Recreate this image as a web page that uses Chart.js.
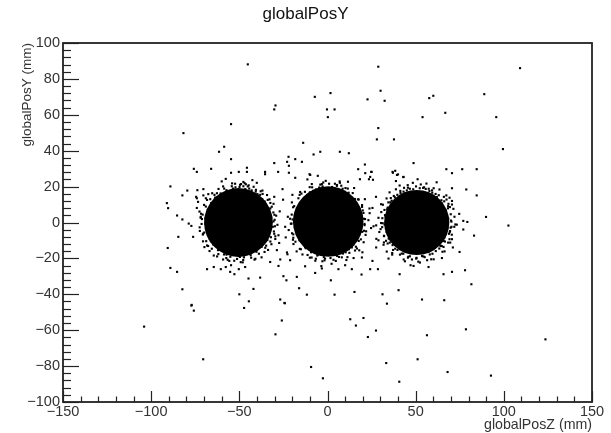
<!DOCTYPE html>
<html lang="en">
<head>
<meta charset="UTF-8" />
<title>globalPosY</title>
<script src="https://cdn.jsdelivr.net/npm/chart.js@4"></script>
<style>
  html, body { margin: 0; padding: 0; background: #fff; }
</style>
</head>
<body>
<canvas id="plot" width="611" height="433"></canvas>
<script>
// axis ticks
const xTicks = [-150, -100, -50, 0, 50, 100, 150];
const yTicks = [-100, -80, -60, -40, -20, 0, 20, 40, 60, 80, 100];

// the three dense spots: centre (z, y) and radius of the solid core, mm
const clusterZ = [-50.5, 0.4, 50.6];
const clusterY = [0, 0.5, 0];
const clusterCoreR = [19.5, 20, 18.5];

// fuzzy edge of each spot (z, y), read by eye
const ring1 = [
  [-33.3,1.1],[-31.0,-2.4],[-34.7,4.6],[-32.4,7.9],[-30.2,-6.3],[-34.1,-9.8],[-35.6,11.7],[-32.9,12.9],
  [-38.2,15.4],[-40.7,17.2],[-44.4,18.9],[-48.1,16.8],[-52.2,19.6],[-55.8,17.4],[-59.4,15.9],[-62.6,14.2],
  [-65.1,10.3],[-67.4,6.7],[-69.3,2.2],[-66.7,-1.9],[-69.9,-5.6],[-65.8,-8.8],[-64.2,-12.4],[-60.7,-15.1],
  [-57.3,-17.9],[-53.4,-16.3],[-49.7,-19.2],[-45.8,-17.6],[-42.2,-16.1],[-38.6,-13.8],[-36.3,-11.1],[-29.1,3.8],
  [-28.4,-1.3],[-30.6,10.4],[-36.9,17.8],[-46.3,21.3],[-54.1,21.8],[-61.8,18.7],[-68.3,12.6],[-71.7,4.9],
  [-72.5,-2.7],[-70.6,-10.5],[-66.9,-15.9],[-59.2,-20.6],[-49.2,-22.1],[-40.9,-20.2],[-33.7,-15.3],[-31.8,-12.1],
  [-27.1,6.2],[-74.1,8.1],[-60.0,22.9],[-42.6,23.6],[-54.7,-23.8],[-37.4,-19.4],[-69.8,-13.7],[-29.6,-9.2],
  [-35.4,-4.2],[-66.2,3.1],[-46.7,-15.2],[-56.1,15.6],[-40.1,14.1],[-63.4,-10.9],[-34.3,15.3],[-67.6,15.8],
  [-34.0,5.0],[-32.7,-3.2],[-31.9,2.7],[-33.6,-7.4],[-35.3,9.6],[-37.1,13.0],[-39.7,15.8],[-43.0,17.9],
  [-46.6,18.6],[-49.9,19.8],[-53.6,18.9],[-57.3,18.0],[-60.6,16.2],[-63.7,13.9],[-66.0,10.8],[-67.8,7.1],
  [-68.6,3.4],[-69.2,-0.9],[-68.1,-4.8],[-66.9,-8.9],[-64.8,-12.2],[-62.1,-15.4],[-58.7,-17.8],[-55.1,-19.1],
  [-51.3,-20.3],[-47.4,-19.4],[-43.6,-18.2],[-40.3,-16.3],[-37.4,-13.6],[-34.9,-10.2],[-30.6,0.6],[-30.1,4.3],
  [-32.4,10.9],[-37.9,17.4],[-44.7,20.7],[-52.4,21.6],[-59.2,20.1],[-65.4,16.3],[-70.0,9.8],[-71.2,1.9],
  [-70.7,-6.7],[-67.7,-13.1],[-62.6,-18.9],[-55.7,-21.4],[-48.1,-22.2],[-41.4,-20.7],[-35.7,-16.4],[-32.1,-8.2],
  [-48.9,17.0],[-66.5,5.5],[-34.4,-0.7],[-52.8,-17.0],[-41.9,-15.5],[-60.0,14.9],[-37.6,11.2],[-63.9,-10.1],
  [-30.0,1.5],[-30.4,-5.0],[-31.6,8.8],[-33.9,12.6],[-36.8,15.9],[-40.6,18.2],[-45.2,20.1],[-49.6,21.0],
  [-54.3,20.2],[-58.6,18.9],[-62.7,16.3],[-66.5,13.0],[-69.0,8.9],[-70.8,4.4],[-71.4,-0.8],[-70.5,-6.2],
  [-68.8,-10.4],[-65.6,-14.6],[-61.9,-17.6],[-57.4,-19.8],[-52.9,-21.3],[-47.8,-20.9],[-43.3,-19.6],[-38.9,-17.4],
  [-35.3,-14.1],[-32.4,-10.6],[-29.8,-2.1],[-30.7,5.6],[-34.8,-12.9],[-64.1,15.4],[-68.3,-12.8],[-41.9,19.9],
  [-56.6,-20.8],[-71.9,2.6],[-29.6,-7.7],[-47.0,21.9]
];
const ring2 = [
  [18.3,2.4],[21.0,-1.5],[17.1,6.5],[19.6,9.7],[21.9,-4.9],[17.7,-10.3],[15.6,13.1],[12.0,16.6],
  [8.6,18.8],[5.3,20.4],[1.5,17.9],[-2.8,20.1],[-6.5,18.4],[-10.0,16.8],[-13.4,13.5],[-15.7,10.0],
  [-18.0,5.6],[-19.8,1.7],[-16.7,-2.3],[-19.4,-6.6],[-15.9,-9.9],[-12.7,-13.6],[-9.2,-16.5],[-5.3,-17.9],
  [-1.4,-20.1],[2.7,-16.8],[6.5,-19.2],[10.3,-16.6],[13.8,-13.9],[16.4,-7.5],[23.2,1.3],[23.9,5.2],
  [21.2,13.0],[15.1,19.2],[6.9,22.9],[-1.0,23.2],[-8.9,21.4],[-15.5,17.0],[-20.2,11.2],[-22.5,3.2],
  [-22.0,-4.2],[-19.3,-12.0],[-14.2,-17.8],[-6.9,-21.3],[2.3,-23.0],[10.7,-20.9],[18.0,-15.5],[20.5,-11.0],
  [24.7,-3.1],[-23.7,-8.3],[-11.4,24.0],[11.6,22.7],[-3.5,-24.3],[14.8,-19.8],[-17.5,-16.1],[-5.8,15.7],
  [15.7,-1.1],[-15.4,-0.4],[4.5,-15.7],[10.1,15.3],[-12.2,-11.5],[19.8,-16.6],[-19.9,15.4],[25.5,8.1],
  [27.6,-1.6],[-25.2,12.7],
  [17.6,3.6],[18.8,-1.6],[16.5,8.4],[17.9,-5.7],[15.0,11.7],[12.6,14.8],[9.7,17.2],[6.1,18.7],
  [2.6,19.8],[-1.0,19.0],[-4.7,19.5],[-8.2,17.6],[-11.5,15.4],[-14.0,12.6],[-16.2,8.9],[-17.5,5.0],
  [-18.1,0.6],[-17.6,-3.5],[-16.5,-7.4],[-14.7,-10.8],[-12.4,-14.3],[-9.3,-16.5],[-5.8,-18.4],[-2.1,-19.3],
  [1.7,-19.8],[5.4,-18.6],[8.8,-17.3],[12.1,-14.9],[14.7,-12.2],[17.0,-8.8],[20.6,2.1],[20.0,6.7],
  [17.3,12.9],[11.5,18.9],[4.2,21.6],[-3.2,21.4],[-10.1,19.7],[-15.8,15.4],[-19.5,8.5],[-20.4,-0.6],
  [-19.4,-8.5],[-15.7,-14.7],[-10.0,-19.6],[-2.9,-21.6],[4.7,-21.4],[11.3,-19.3],[16.7,-14.5],[19.7,-5.2],
  [-0.2,17.7],[-15.9,2.3],[17.2,1.2],[0.6,-17.2],[10.2,-13.8],[-7.7,15.5],[13.9,10.0],[-13.6,-9.3],
  [21.3,1.9],[20.7,-4.6],[19.6,8.7],[17.7,12.8],[14.3,16.4],[10.2,19.2],[5.4,20.9],[0.9,21.6],
  [-4.1,21.1],[-8.7,19.6],[-12.8,17.1],[-16.5,13.5],[-18.9,9.1],[-20.3,4.4],[-20.8,-0.7],[-20.1,-6.0],
  [-18.2,-10.7],[-15.1,-14.9],[-11.3,-18.1],[-6.6,-20.2],[-1.7,-21.1],[3.4,-20.8],[8.1,-19.4],[12.4,-16.9],
  [16.1,-13.5],[18.9,-9.4],[21.0,-0.8],[20.4,5.3],[15.6,-15.6],[-14.8,16.1],[-19.6,-9.6],[7.8,20.5],
  [-9.0,-19.5],[-21.2,2.1],[21.6,-6.9],[-2.4,22.3]
];
const ring3 = [
  [67.3,1.4],[69.8,-2.9],[66.2,5.7],[68.4,9.1],[70.5,-6.8],[65.9,-10.3],[64.6,12.4],[61.3,15.9],
  [57.8,17.6],[54.2,19.3],[50.3,16.7],[46.7,18.8],[43.1,17.2],[39.6,15.4],[36.4,12.1],[34.1,8.3],
  [32.6,4.1],[31.3,-0.4],[34.2,-3.7],[32.1,-7.6],[35.3,-11.2],[38.4,-14.6],[42.1,-17.3],[45.8,-19.1],
  [49.9,-16.8],[53.6,-18.7],[57.4,-16.2],[60.9,-14.1],[64.1,-12.9],[66.8,-4.1],[72.0,3.2],[71.4,7.6],
  [69.2,13.8],[63.5,18.4],[56.1,21.7],[48.4,22.1],[40.9,20.6],[35.2,16.8],[30.4,10.2],[28.9,2.6],
  [29.4,-5.3],[31.8,-12.4],[36.7,-17.9],[43.9,-21.6],[52.4,-22.3],[60.2,-20.5],[66.4,-16.1],[69.6,-11.2],
  [73.3,-1.2],[27.7,-9.1],[38.8,23.1],[61.9,22.4],[47.1,-23.8],[64.9,-19.8],[33.6,-16.2],[71.1,-13.9],
  [48.2,14.9],[36.1,1.2],[55.9,-14.3],[40.7,12.6],[63.2,8.7],[38.9,-9.2],[59.4,12.3],[44.6,-13.1],
  [65.7,-1.9],[35.8,-4.9],
  [67.4,-2.6],[68.5,2.2],[66.9,6.8],[66.3,-8.4],[64.7,10.9],[62.0,14.2],[59.4,16.6],[55.7,18.7],
  [52.3,19.1],[48.6,18.5],[45.0,17.9],[41.4,16.4],[38.2,14.0],[35.6,11.2],[33.8,7.3],[33.0,3.1],
  [32.4,-1.2],[33.5,-5.3],[34.7,-9.0],[36.9,-12.6],[39.7,-15.3],[43.0,-17.4],[46.7,-18.8],[50.5,-19.7],
  [54.4,-18.9],[58.0,-17.8],[61.4,-15.9],[64.2,-13.1],[69.5,-4.8],[70.3,0.5],[69.4,8.6],[66.0,14.3],
  [60.2,19.1],[52.9,21.2],[45.5,20.8],[38.8,18.5],[33.5,13.4],[30.5,5.8],[30.1,-3.7],[32.0,-11.1],
  [36.7,-17.0],[43.2,-20.6],[51.5,-21.8],[58.8,-20.5],[65.2,-16.3],[68.4,-11.2],[51.0,16.4],[35.2,0.8],
  [66.1,2.9],[49.0,-16.7],[58.9,-14.6],[41.8,14.1],[62.8,10.8],[38.5,-11.4],[56.5,-21.0],[31.4,9.9],
  [70.0,1.1],[69.3,-5.4],[68.3,7.9],[66.2,11.8],[63.1,15.2],[59.3,17.9],[54.8,19.6],[50.2,20.1],
  [45.6,19.4],[41.3,17.6],[37.6,14.8],[34.5,11.2],[32.3,7.0],[31.1,2.4],[31.0,-2.6],[32.0,-7.4],
  [34.1,-11.7],[37.2,-15.3],[41.1,-17.9],[45.6,-19.6],[50.3,-20.1],[55.1,-19.3],[59.5,-17.4],[63.4,-14.5],
  [66.6,-10.6],[68.9,-6.3],[70.3,-2.4],[69.9,4.6],[64.8,-13.1],[35.9,13.6],[33.2,-10.2],[57.4,18.8],
  [47.9,-20.6],[30.4,-0.3],[68.6,10.4],[43.4,19.3]
];

// isolated hits (z, y)
const outliers = [
  [-45.2,88.1],[-81.7,49.8],[-54.7,54.8],[-29.5,65.2],[-30.2,63.0],[-7.2,70.0],[1.7,72.1],[-0.3,63.0],
  [4.0,63.0],[0.2,58.7],[-13.8,44.4],[-58.6,42.2],[-61.5,39.4],[-54.7,35.3],[-7.9,37.9],[-4.1,39.4],
  [7.0,39.4],[12.1,38.6],[-22.1,36.6],[-18.3,35.3],[-30.2,33.1],[-22.9,33.8],[-14.5,33.8],[-21.9,31.6],
  [-75.8,29.9],[-74.1,28.2],[-66.0,29.9],[-45.7,30.5],[-54.7,27.7],[-50.3,28.2],[-45.7,28.2],[-35.4,28.2],
  [-35.4,26.9],[-28.0,28.2],[-21.9,27.7],[-10.2,26.9],[-5.5,26.0],[-18.3,24.9],[-57.7,24.3],
  [28.8,86.8],[109.2,86.0],[30.1,73.4],[22.7,68.6],[32.4,67.8],[57.7,69.3],[60.0,70.6],[88.9,71.5],
  [66.8,61.1],[53.9,58.7],[95.7,58.7],[28.8,52.6],[28.0,46.3],[37.7,46.3],[99.5,40.9],[21.2,32.3],
  [48.8,33.1],[17.4,29.7],[25.0,28.2],[21.4,27.5],[36.9,28.2],[38.4,28.8],[40.0,26.8],[43.0,25.3],
  [67.4,29.7],[70.6,27.5],[76.4,29.7],[84.6,29.7],[18.4,24.1],[23.5,24.1],[25.8,23.8],[51.1,24.1],
  [-89.1,20.1],[-79.5,17.8],[-70.4,18.6],[-82.3,15.1],[-74.1,13.5],[-73.4,11.5],[-70.4,15.1],[-69.0,13.5],
  [-91.1,10.8],[-90.4,8.0],[-85.3,3.9],[-82.3,1.7],[-78.7,-0.6],[-77.2,-1.9],[-72.6,6.1],[-71.9,3.1],
  [-72.4,-4.7],[-84.6,-8.0],[-76.2,-8.0],[-90.6,-14.2],[-64.5,-18.4],[-89.1,-25.3],[-85.3,-27.5],[-68.3,-26.0],
  [-64.5,-24.8],[-82.3,-37.2],[-77.0,-45.9],
  [-9.8,26.5],[7.0,22.1],[24.8,28.2],[24.2,25.4],[37.1,27.7],[39.4,26.5],[43.1,25.4],
  [-25.5,18.6],[-30.2,14.3],[-24.0,-2.4],[-27.4,-11.4],[-28.7,-15.4],[-22.7,-17.7],[-32.5,-22.0],[-27.8,-24.2],
  [-25.0,-29.9],[-23.3,-32.2],[-17.4,-30.3],[-16.1,-36.6],[-7.0,-28.1],[1.9,-32.2],[-11.7,-40.2],[4.0,-40.2],
  [-26.8,-42.9],[-24.4,-44.8],[15.3,-38.7],[-12.7,-24.4],[-3.2,-25.6],[6.2,-26.0],[10.0,-23.8],[13.8,-26.0],
  [19.3,-29.0],[24.2,-26.0],[28.6,-26.0],[19.5,-19.5],[25.5,-21.4],
  [23.8,7.8],[26.1,-2.1],[28.9,-9.9],[27.6,-13.9],[27.5,14.3],
  [34.6,-20.1],[40.9,-28.8],[48.8,-24.2],[57.3,-24.8],[65.8,-28.8],[40.3,-37.7],[53.6,-42.9],[31.2,-40.0],
  [33.7,-45.2],[66.2,-43.3],
  [70.6,19.1],[78.7,18.4],[84.6,15.1],[67.4,15.1],[67.5,12.8],[70.6,12.0],[70.6,10.0],[74.7,4.8],
  [89.9,3.1],[77.0,0.9],[79.3,0.3],[102.6,-1.7],[77.0,-3.9],[72.5,-1.1],[71.9,-2.4],[83.1,-7.3],
  [69.2,-9.3],[70.6,-9.3],[74.9,-16.4],[65.8,-13.6],[78.0,-26.6],[70.6,-27.5],[81.6,-34.4],
  [-104.0,-58.0],[-70.5,-76.2],[-77.2,-46.3],[-75.8,-49.1],[-47.3,-47.6],[-44.6,-43.9],[-25.9,-54.6],[-29.5,-62.3],
  [-24.2,-45.0],
  [12.9,-53.9],[16.1,-57.4],[20.4,-53.2],[22.9,-63.8],[27.5,-60.2],[56.4,-62.8],[78.5,-59.5],[123.6,-65.1],
  [-9.3,-80.5],[-2.6,-86.8],[33.3,-78.3],[51.1,-76.2],[40.7,-88.7],[68.1,-83.3],[92.7,-85.3],
  [-60.5,-26.0],[-57.7,-24.8],[-55.2,-27.5],[-52.8,-28.8],[-50.3,-26.0],[-46.7,-24.8],[-44.8,-31.2],[-38.2,-30.7],
  [-26.8,-20.6],[-47.7,22.6],[-49.0,21.4],[-47.7,20.2],[-40.1,22.1],[-73.8,18.0],[-74.5,14.3],[-27.8,-7.1],
  [-23.0,-16.7],[-21.2,-21.0],[-42.0,-37.0],[-50.0,-40.0]
];

const FONT = '"Liberation Sans", Arial, Helvetica, sans-serif';
const toXY = p => ({ x: p[0], y: p[1] });
const fmt = v => (v < 0 ? '\u2212' + Math.abs(v) : String(v));

// ROOT style frame with inward ticks
const rootFrame = {
  id: 'rootFrame',
  afterDatasetsDraw(chart) {
    const { ctx, chartArea: a, scales: { x, y } } = chart;
    ctx.save();
    ctx.strokeStyle = '#222';
    ctx.lineWidth = 1.2;
    for (let v = -150; v <= 150; v += 10) {
      const px = Math.round(x.getPixelForValue(v)) + 0.5;
      const len = v % 50 === 0 ? 11 : 5.5;
      ctx.beginPath();
      ctx.moveTo(px, a.bottom);
      ctx.lineTo(px, a.bottom - len);
      ctx.stroke();
    }
    for (let v = -100; v <= 100; v += 4) {
      const py = Math.round(y.getPixelForValue(v)) + 0.5;
      const len = v % 20 === 0 ? 16 : 8;
      ctx.beginPath();
      ctx.moveTo(a.left, py);
      ctx.lineTo(a.left + len, py);
      ctx.stroke();
    }
    ctx.lineWidth = 1.8;
    ctx.strokeStyle = '#222';
    ctx.strokeRect(a.left, a.top, a.right - a.left, a.bottom - a.top);
    ctx.restore();
  }
};

const ctx = document.getElementById('plot').getContext('2d');
new Chart(ctx, {
  type: 'scatter',
  data: {
    datasets: [
      {
        label: 'core',
        data: clusterZ.map((z, i) => ({ x: z, y: clusterY[i] })),
        backgroundColor: '#000',
        borderWidth: 0,
        pointStyle: 'circle',
        pointRadius: (c) => {
          const s = c.chart.scales.x;
          return Math.abs(s.getPixelForValue(clusterCoreR[c.dataIndex]) - s.getPixelForValue(0));
        }
      },
      {
        label: 'hits',
        data: ring1.concat(ring2, ring3, outliers).map(toXY),
        backgroundColor: '#000',
        borderWidth: 0,
        pointStyle: 'rect',
        pointRadius: 1.5
      }
    ]
  },
  options: {
    responsive: false,
    devicePixelRatio: 1,
    animation: false,
    events: [],
    layout: { padding: { left: 19, right: 19, top: 0, bottom: 0 } },
    plugins: {
      legend: { display: false },
      tooltip: { enabled: false },
      title: {
        display: true,
        text: 'globalPosY',
        color: '#111',
        font: { family: FONT, size: 17, weight: 'normal' },
        padding: { top: 4, bottom: 18.6 }
      }
    },
    scales: {
      x: {
        type: 'linear',
        min: -150,
        max: 150,
        afterBuildTicks: (s) => { s.ticks = xTicks.map(v => ({ value: v })); },
        afterFit: (s) => { s.height = 31; },
        grid: { display: false, drawTicks: false },
        border: { display: false },
        ticks: { padding: 1, color: '#333', font: { family: FONT, size: 14.5 }, callback: fmt, maxRotation: 0 },
        title: {
          display: true,
          text: 'globalPosZ (mm)',
          align: 'end',
          color: '#333',
          font: { family: FONT, size: 14.2 },
          padding: { top: 0, bottom: -1 }
        }
      },
      y: {
        type: 'linear',
        min: -100,
        max: 100,
        afterBuildTicks: (s) => { s.ticks = yTicks.map(v => ({ value: v })); },
        afterFit: (s) => { s.width = 44; },
        grid: { display: false, drawTicks: false },
        border: { display: false },
        ticks: { padding: 3, color: '#333', font: { family: FONT, size: 14.5 }, callback: fmt },
        title: {
          display: true,
          text: 'globalPosY (mm)',
          align: 'end',
          color: '#333',
          font: { family: FONT, size: 13.5 },
          padding: { top: 0, bottom: 0 }
        }
      }
    }
  },
  plugins: [rootFrame]
});
</script>
</body>
</html>
